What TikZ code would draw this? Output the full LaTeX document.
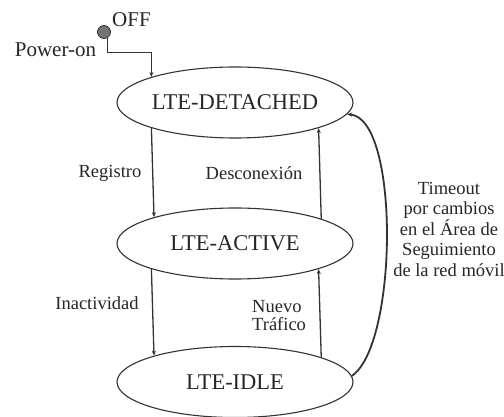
\documentclass[tikz,border=0pt]{standalone}
\usepackage{fontspec}
\setmainfont{Liberation Serif}
\usetikzlibrary{arrows.meta,shapes.geometric}
\begin{document}
\begin{tikzpicture}[x=1pt,y=-1pt,
  state/.style={ellipse,draw=black!80,line width=1.1pt,minimum width=236pt,minimum height=71pt,inner sep=0pt,font=\fontsize{22.5}{26}\selectfont,text=black!85},
  lbl/.style={font=\fontsize{18.5}{20.5}\selectfont,text=black!85,inner sep=0pt},
  conn/.style={draw=black!80,line width=1.3pt,-{Stealth[length=5pt,width=4pt]}}]
\useasboundingbox (0,0) rectangle (504,417);
\node[state] (det) at (235,102.5) {LTE-DETACHED};
\node[state] (act) at (235,243.5) {LTE-ACTIVE};
\node[state] (idle) at (235,382) {LTE-IDLE};
\node[circle,draw=black!80,fill=black!55,line width=0.8pt,minimum size=13pt,inner sep=0pt] (off) at (104,32) {};
\node[lbl,anchor=west,font=\fontsize{21}{24}\selectfont] (offl) at (112,20) {OFF};
\node[lbl,font=\fontsize{21}{24}\selectfont] (pwr) at (55.5,50) {Power-on};
\draw[conn,line width=1pt] (off.-60) -- ++(0,15) -| (det.163.1);
\draw[conn] (det.197.7) -- (act.162.3);
\draw[conn] (act.16.2) -- (det.343.8);
\draw[conn] (act.197.7) -- (idle.162.3);
\draw[conn] (idle.16.2) -- (act.343.8);
\draw[conn,line width=1.8pt] (idle.3) .. controls (398,345) and (400,118) .. (det.-6);
\node[lbl] (reg) at (110,173) {Registro};
\node[lbl] (des) at (254,173) {Desconexión};
\node[lbl] (ina) at (97,303) {Inactividad};
\node[lbl,align=left,anchor=west,font=\fontsize{18.5}{18}\selectfont] (nue) at (252,316) {Nuevo\\Tráfico};
\node[lbl,align=center] (tim) at (449,229) {Timeout\\por cambios\\en el Área de\\Seguimiento\\de la red móvil};
\end{tikzpicture}
\end{document}
